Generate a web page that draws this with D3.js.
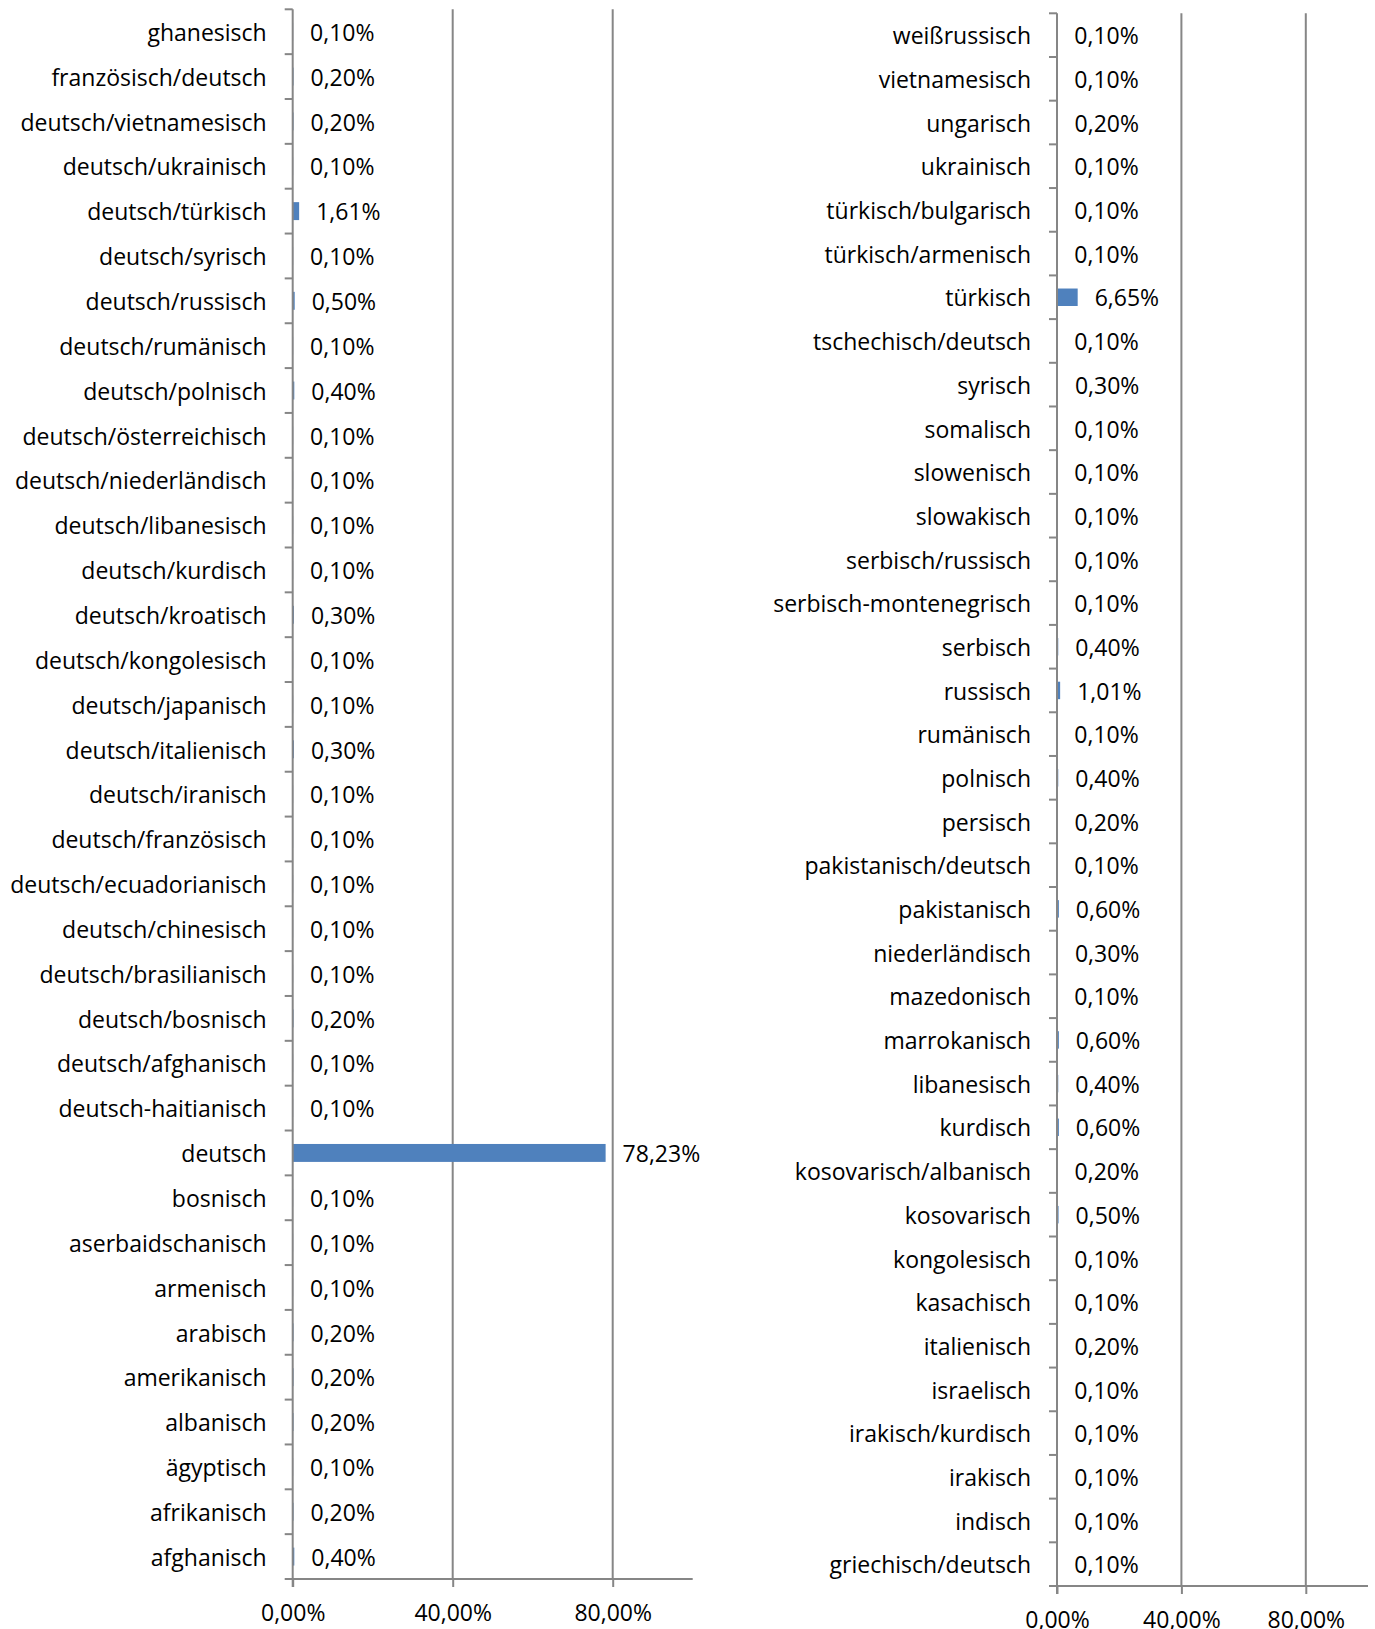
<!DOCTYPE html>
<html>
<head>
<meta charset="utf-8">
<script src="https://cdn.jsdelivr.net/npm/d3@7"></script>
<style>
  body { margin: 0; background: #fff; }
  text { font-family: "Open Sans", sans-serif; fill: #000; }
</style>
</head>
<body>
<div id="chart"></div>
<script>
// Data (left panel, top to bottom)
var leftCategories = ["ghanesisch", "französisch/deutsch", "deutsch/vietnamesisch", "deutsch/ukrainisch",
  "deutsch/türkisch", "deutsch/syrisch", "deutsch/russisch", "deutsch/rumänisch", "deutsch/polnisch",
  "deutsch/österreichisch", "deutsch/niederländisch", "deutsch/libanesisch", "deutsch/kurdisch",
  "deutsch/kroatisch", "deutsch/kongolesisch", "deutsch/japanisch", "deutsch/italienisch",
  "deutsch/iranisch", "deutsch/französisch", "deutsch/ecuadorianisch", "deutsch/chinesisch",
  "deutsch/brasilianisch", "deutsch/bosnisch", "deutsch/afghanisch", "deutsch-haitianisch", "deutsch",
  "bosnisch", "aserbaidschanisch", "armenisch", "arabisch", "amerikanisch", "albanisch", "ägyptisch",
  "afrikanisch", "afghanisch"];
var leftValues = [0.10, 0.20, 0.20, 0.10, 1.61, 0.10, 0.50, 0.10, 0.40, 0.10, 0.10, 0.10, 0.10, 0.30,
  0.10, 0.10, 0.30, 0.10, 0.10, 0.10, 0.10, 0.10, 0.20, 0.10, 0.10, 78.23, 0.10, 0.10, 0.10, 0.20,
  0.20, 0.20, 0.10, 0.20, 0.40];

// Data (right panel, top to bottom)
var rightCategories = ["weißrussisch", "vietnamesisch", "ungarisch", "ukrainisch", "türkisch/bulgarisch",
  "türkisch/armenisch", "türkisch", "tschechisch/deutsch", "syrisch", "somalisch", "slowenisch",
  "slowakisch", "serbisch/russisch", "serbisch-montenegrisch", "serbisch", "russisch", "rumänisch",
  "polnisch", "persisch", "pakistanisch/deutsch", "pakistanisch", "niederländisch", "mazedonisch",
  "marrokanisch", "libanesisch", "kurdisch", "kosovarisch/albanisch", "kosovarisch", "kongolesisch",
  "kasachisch", "italienisch", "israelisch", "irakisch/kurdisch", "irakisch", "indisch",
  "griechisch/deutsch"];
var rightValues = [0.10, 0.10, 0.20, 0.10, 0.10, 0.10, 6.65, 0.10, 0.30, 0.10, 0.10, 0.10, 0.10, 0.10,
  0.40, 1.01, 0.10, 0.40, 0.20, 0.10, 0.60, 0.30, 0.10, 0.60, 0.40, 0.60, 0.20, 0.50, 0.10, 0.10,
  0.20, 0.10, 0.10, 0.10, 0.10, 0.10];

var xTicks = [0, 40, 80];
var xDomain = [0, 100];

var svgWidth = 1375;
var svgHeight = 1629;
var barColor = "#4f81bd";
var axisColor = "#868686";

var svg = d3.select("#chart")
  .append("svg")
  .attr("width", svgWidth)
  .attr("height", svgHeight);

var fmt = v => v.toFixed(2).replace(".", ",") + "%";

function drawPanel(cats, vals, box) {
  var x = d3.scaleLinear().domain(xDomain).range([box.left, box.right]);
  var y = d3.scaleBand().domain(cats).range([box.top, box.bottom]);
  var yBar = d3.scaleBand().domain(cats).range([box.top, box.bottom])
    .paddingInner(0.6).paddingOuter(0.3);

  var g = svg.append("g");

  // vertical gridlines
  g.append("g")
    .selectAll("line")
    .data(xTicks.filter(t => t > 0))
    .enter()
    .append("line")
    .attr("x1", d => x(d)).attr("x2", d => x(d))
    .attr("y1", box.top).attr("y2", box.bottom)
    .attr("stroke", axisColor)
    .attr("stroke-width", 2);

  // bars
  g.append("g")
    .selectAll("rect")
    .data(vals)
    .enter()
    .append("rect")
    .attr("x", x(0))
    .attr("y", (d, i) => yBar(cats[i]))
    .attr("width", d => x(d) - x(0))
    .attr("height", yBar.bandwidth())
    .attr("fill", barColor);

  // bottom axis
  var bottomAxis = d3.axisBottom(x).tickValues(xTicks).tickSize(8).tickPadding(18).tickFormat(fmt);
  var xg = g.append("g")
    .attr("transform", `translate(0, ${box.bottom})`)
    .call(bottomAxis);
  xg.select(".domain").remove();
  xg.selectAll(".tick line").attr("stroke", axisColor).attr("stroke-width", 2);
  xg.selectAll(".tick text").attr("font-size", "23px").attr("font-family", "Open Sans").attr("fill", "#000");
  g.append("line")
    .attr("x1", x(0) - 8).attr("x2", box.right)
    .attr("y1", box.bottom).attr("y2", box.bottom)
    .attr("stroke", axisColor).attr("stroke-width", 2);

  // category axis line and boundary ticks
  g.append("line")
    .attr("x1", x(0)).attr("x2", x(0))
    .attr("y1", box.top).attr("y2", box.bottom + 8)
    .attr("stroke", axisColor).attr("stroke-width", 2);
  g.append("g")
    .selectAll("line")
    .data(cats)
    .enter()
    .append("line")
    .attr("x1", x(0) - 8).attr("x2", x(0))
    .attr("y1", d => y(d)).attr("y2", d => y(d))
    .attr("stroke", axisColor).attr("stroke-width", 2);

  // category labels
  g.append("g")
    .selectAll("text")
    .data(cats)
    .enter()
    .append("text")
    .attr("x", x(0) - 26)
    .attr("y", d => y(d) + y.bandwidth() / 2)
    .attr("dy", "0.4em")
    .attr("text-anchor", "end")
    .attr("font-size", "23px")
    .text(d => d);

  // value labels
  g.append("g")
    .selectAll("text")
    .data(vals)
    .enter()
    .append("text")
    .attr("x", d => x(d) + 17)
    .attr("y", (d, i) => y(cats[i]) + y.bandwidth() / 2)
    .attr("dy", "0.4em")
    .attr("font-size", "23px")
    .text(d => fmt(d));
}

drawPanel(leftCategories, leftValues, {left: 292.7, right: 692.7, top: 9.3, bottom: 1579});
drawPanel(rightCategories, rightValues, {left: 1057, right: 1368, top: 13.3, bottom: 1586});
</script>
</body>
</html>
